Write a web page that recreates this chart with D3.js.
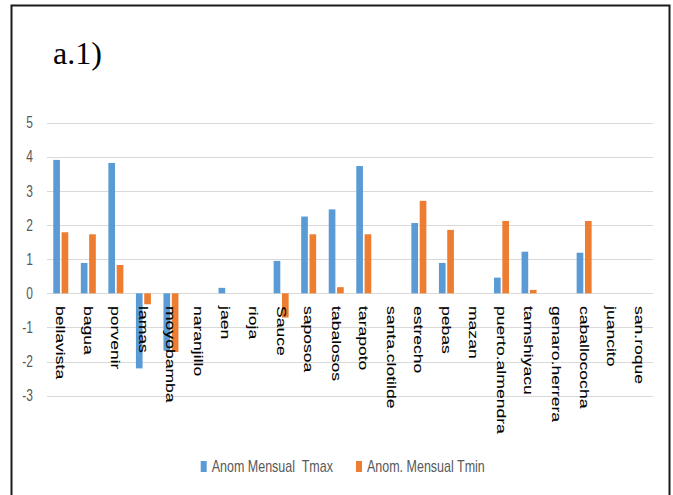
<!DOCTYPE html>
<html>
<head>
<meta charset="utf-8">
<script src="https://cdn.jsdelivr.net/npm/d3@7"></script>
<style>
  html, body { margin: 0; padding: 0; background: #fff; }
  svg { display: block; }
  text { white-space: pre; }
</style>
</head>
<body>
<div id="chart"></div>
<script>
// Monthly temperature anomalies per station
const stations = ["bellavista","bagua","porvenir","lamas","moyobamba","naranjillo","jaen","rioja",
  "Sauce","saposoa","tabalosos","tarapoto","santa.clotilde","estrecho","pebas","mazan",
  "puerto.almendra","tamshiyacu","genaro.herrera","caballococha","juancito","san.roque"];
const tmaxAnom = [3.91, 0.89, 3.82, -2.2, -1.68, 0, 0.16, 0, 0.95, 2.25, 2.46, 3.73, 0, 2.06, 0.89, 0,
  0.46, 1.22, 0, 1.19, 0, 0];
const tminAnom = [1.79, 1.73, 0.83, -0.32, -1.72, 0, 0, 0, -0.71, 1.73, 0.18, 1.73, 0, 2.71, 1.86, 0,
  2.12, 0.1, 0, 2.12, 0, 0];
const seriesNames = ["Anom Mensual  Tmax", "Anom. Mensual Tmin"];
const seriesColors = ["#5B9BD5", "#ED7D31"];
const yTicks = [5, 4, 3, 2, 1, 0, -1, -2, -3];

const W = 673, H = 495;
const svg = d3.select("#chart").append("svg").attr("width", W).attr("height", H);
svg.append("rect").attr("width", W).attr("height", H).attr("fill", "#fff");

// frame around the figure
svg.append("rect").attr("x", 11.5).attr("y", 5.5).attr("width", 658).attr("height", 500)
  .attr("fill", "none").attr("stroke", "#1a1a1a").attr("stroke-width", 2);

// panel title
svg.append("text").attr("x", 53).attr("y", 64)
  .attr("font-family", "'Liberation Serif', 'Times New Roman', serif")
  .attr("font-size", 32).attr("fill", "#000").text("a.1)");

const x = d3.scaleBand().domain(stations).range([47, 653]).padding(0);
const x1 = d3.scaleBand().domain([0, 1]).range([-7.5, 7.5]).paddingInner(0.2);
const y = d3.scaleLinear().domain([-3, 5]).range([395.7, 122.7]);

// gridlines
svg.append("g").selectAll("line").data(yTicks).join("line")
  .attr("x1", 47).attr("x2", 653)
  .attr("y1", d => Math.round(y(d)) + 0.5).attr("y2", d => Math.round(y(d)) + 0.5)
  .attr("stroke", "#d9d9d9").attr("stroke-width", 1);

// y tick labels (vertically stretched like the rest of the chart)
svg.append("g").selectAll("text").data(yTicks).join("text")
  .attr("transform", d => `translate(33,${y(d)}) scale(1,1.3)`)
  .attr("text-anchor", "end").attr("dominant-baseline", "central")
  .attr("font-family", "'Liberation Sans', Arial, sans-serif").attr("font-size", 12)
  .attr("fill", "#595959").text(d => d);

// bars
const series = [tmaxAnom, tminAnom];
series.forEach((vals, si) => {
  svg.append("g").selectAll("rect").data(vals.map((v, i) => ({ st: stations[i], v })))
    .join("rect")
    .filter(d => d.v !== 0)
    .attr("x", d => x(d.st) + x.bandwidth() / 2 + x1(si))
    .attr("width", x1.bandwidth())
    .attr("y", d => y(Math.max(0, d.v)))
    .attr("height", d => Math.abs(y(d.v) - y(0)))
    .attr("fill", seriesColors[si]);
});

// category labels, rotated to read top-to-bottom
svg.append("g").selectAll("text").data(stations).join("text")
  .attr("transform", d => `translate(${x(d) + x.bandwidth() / 2},306) rotate(90) scale(1.35,1)`)
  .attr("text-anchor", "start").attr("dominant-baseline", "central")
  .attr("font-family", "'Liberation Sans', Arial, sans-serif").attr("font-size", 13)
  .attr("fill", "#000").attr("stroke", "#000").attr("stroke-width", 0.1)
  .text(d => d);

// legend
const legendX = [200.7, 356];
seriesNames.forEach((name, i) => {
  const g = svg.append("g").attr("transform", `translate(${legendX[i]},0)`);
  g.append("rect").attr("x", 0).attr("y", 461).attr("width", 6).attr("height", 11)
    .attr("fill", seriesColors[i]);
  g.append("text").attr("transform", "translate(11,472) scale(1,1.28)")
    .attr("font-family", "'Liberation Sans', Arial, sans-serif").attr("font-size", 12.5)
    .attr("fill", "#595959").text(name);
});
</script>
</body>
</html>
